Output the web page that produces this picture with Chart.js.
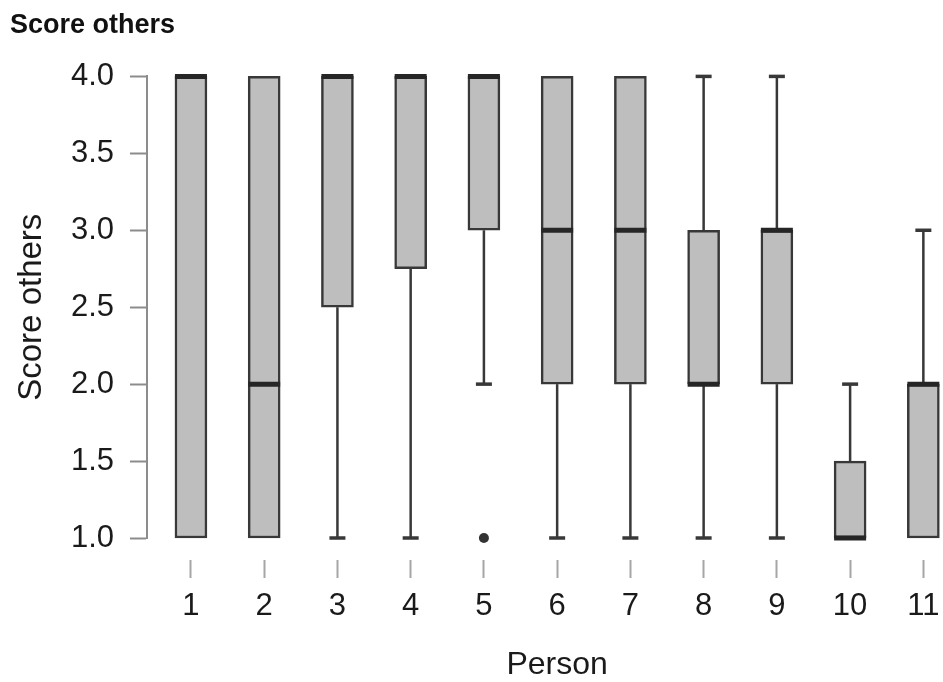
<!DOCTYPE html>
<html>
<head>
<meta charset="utf-8">
<title>Score others</title>
<script src="https://cdn.jsdelivr.net/npm/chart.js@4"></script>
<style>
  html, body { margin: 0; padding: 0; background: #ffffff; }
  canvas { display: block; }
</style>
</head>
<body>
<canvas id="chart" width="943" height="682"></canvas>
<script>
// Box-plot summary of the scores each person gave to the others
const persons      = ['1', '2', '3', '4', '5', '6', '7', '8', '9', '10', '11'];
const whiskerLow   = [1, 1, 1,   1,    2, 1, 1, 1, 1, 1,   1];
const quartile1    = [1, 1, 2.5, 2.75, 3, 2, 2, 2, 2, 1,   1];
const median       = [4, 2, 4,   4,    4, 3, 3, 2, 3, 1,   2];
const quartile3    = [4, 4, 4,   4,    4, 4, 4, 3, 3, 1.5, 2];
const whiskerHigh  = [4, 4, 4,   4,    4, 4, 4, 4, 4, 2,   3];
const outlierPerson = ['5'];
const outlierValue  = [1];
const yTickValues   = [1.0, 1.5, 2.0, 2.5, 3.0, 3.5, 4.0];

const positions = persons.map((p, i) => i + 1);
const posOf = name => persons.indexOf(name) + 1;

const INK = '#383838';
const TEXT = '#1a1a1a';
Chart.defaults.font.family = '"Liberation Sans", Arial, Helvetica, sans-serif';

// Whiskers, staples and medians drawn on top of the floating-bar boxes
const boxPlotLines = {
  id: 'boxPlotLines',
  afterDatasetsDraw(chart) {
    const { ctx, scales: { x, y } } = chart;
    const boxes = chart.getDatasetMeta(0).data;
    ctx.save();
    ctx.strokeStyle = INK;
    ctx.lineCap = 'butt';
    const seg = (x1, y1, x2, y2, w) => {
      ctx.lineWidth = w;
      ctx.beginPath();
      ctx.moveTo(x1, y1);
      ctx.lineTo(x2, y2);
      ctx.stroke();
    };
    boxes.forEach((box, i) => {
      const cx = box.x;
      const half = box.width / 2;
      const staple = half / 2;
      const yQ1 = y.getPixelForValue(quartile1[i]);
      const yQ3 = y.getPixelForValue(quartile3[i]);
      if (whiskerHigh[i] > quartile3[i]) {
        const yHi = y.getPixelForValue(whiskerHigh[i]);
        seg(cx, yQ3, cx, yHi, 2.5);
        seg(cx - staple, yHi, cx + staple, yHi, 3.5);
      }
      if (whiskerLow[i] < quartile1[i]) {
        const yLo = y.getPixelForValue(whiskerLow[i]);
        seg(cx, yQ1, cx, yLo, 2.5);
        seg(cx - staple, yLo, cx + staple, yLo, 3.5);
      }
      const yMed = y.getPixelForValue(median[i]);
      ctx.strokeStyle = '#262626';
      seg(cx - half, yMed, cx + half, yMed, 5);
      ctx.strokeStyle = INK;
    });
    ctx.restore();
  },
  afterDraw(chart) {
    // x-axis title centred under the middle category
    const { ctx, scales: { x } } = chart;
    ctx.save();
    ctx.font = '32px "Liberation Sans", Arial, sans-serif';
    ctx.fillStyle = TEXT;
    ctx.textAlign = 'center';
    ctx.textBaseline = 'middle';
    ctx.fillText('Person', x.getPixelForValue(positions[Math.floor(positions.length / 2)]), 665);
    ctx.restore();
  }
};

new Chart(document.getElementById('chart'), {
  data: {
    datasets: [
      {
        type: 'bar',
        data: positions.map((p, i) => ({ x: p, y: [quartile1[i], quartile3[i]] })),
        backgroundColor: '#bebebe',
        borderColor: INK,
        borderWidth: 2.5,
        borderSkipped: false,
        barThickness: 32,
        clip: false
      },
      {
        type: 'scatter',
        data: outlierPerson.map((p, i) => ({ x: posOf(p), y: outlierValue[i] })),
        pointRadius: 5,
        pointBackgroundColor: '#333333',
        pointBorderWidth: 0,
        clip: false
      }
    ]
  },
  options: {
    responsive: false,
    animation: false,
    devicePixelRatio: 1,
    events: [],
    layout: { padding: { left: 10, right: 0, top: 0, bottom: 0 } },
    plugins: {
      legend: { display: false },
      tooltip: { enabled: false },
      title: {
        display: true,
        text: 'Score others',
        align: 'start',
        color: '#111111',
        font: { size: 27, weight: 'bold' },
        padding: { top: 9, bottom: 35 }
      }
    },
    scales: {
      x: {
        type: 'linear',
        offset: false,
        min: 0.4,
        max: 11.2,
        afterBuildTicks: s => { s.ticks = positions.map(v => ({ value: v })); },
        ticks: {
          callback: v => persons[v - 1],
          color: TEXT,
          font: { size: 31 },
          padding: 10,
          autoSkip: false,
          maxRotation: 0
        },
        grid: {
          offset: false,
          drawOnChartArea: false,
          tickLength: 40,
          tickWidth: 2,
          color: '#a6a6a6',
          tickBorderDash: [0, 22, 18, 100]
        },
        border: { display: false },
        afterFit: s => { s.height = 144; s.paddingLeft = 0; s.paddingRight = 0; }
      },
      y: {
        min: 1,
        max: 4,
        afterBuildTicks: s => { s.ticks = yTickValues.map(v => ({ value: v })); },
        ticks: {
          callback: v => v.toFixed(1),
          color: TEXT,
          font: { size: 31 },
          padding: 16
        },
        grid: {
          drawOnChartArea: false,
          tickLength: 17,
          tickWidth: 2,
          color: '#8c8c8c'
        },
        border: { display: true, color: '#8c8c8c', width: 2 },
        title: {
          display: true,
          text: 'Score others',
          color: TEXT,
          font: { size: 33 },
          padding: { top: 2, bottom: 0 }
        },
        afterFit: s => { s.width = 137; s.paddingTop = 0; s.paddingBottom = 0; }
      }
    }
  },
  plugins: [boxPlotLines]
});
</script>
</body>
</html>
